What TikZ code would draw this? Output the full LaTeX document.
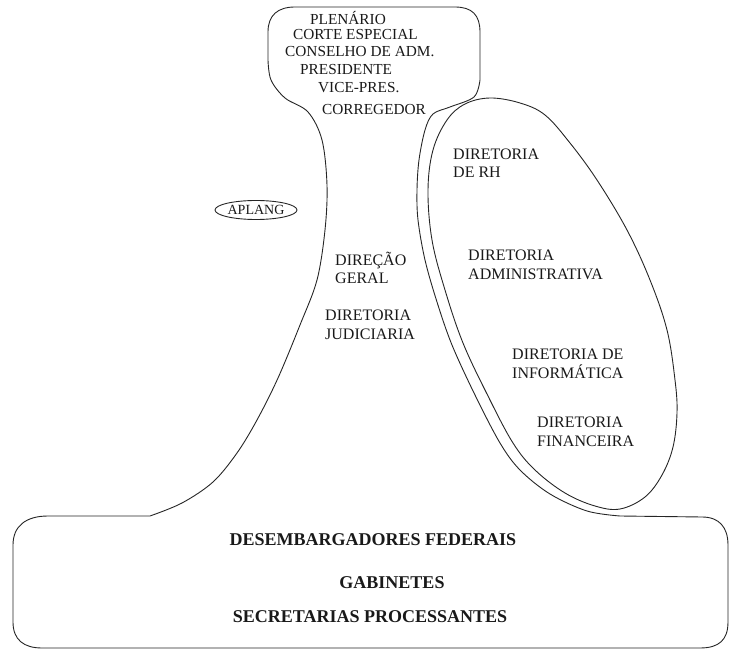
\documentclass[tikz,border=0pt]{standalone}
\usepackage{fontspec}
\setmainfont{Liberation Serif}
\usetikzlibrary{shapes.geometric}
\begin{document}
\begin{tikzpicture}[x=1pt,y=-1pt,
  outline/.style={draw=black!85,line width=0.9pt,line join=round},
  toplabel/.style={anchor=west,inner sep=0pt,text=black!90,font=\fontsize{15.3}{18}\selectfont},
  unitlabel/.style={anchor=west,inner sep=0pt,align=left,text=black!90,font=\fontsize{16}{18.5}\selectfont},
  baselabel/.style={inner sep=0pt,text=black!90,font=\fontsize{18}{22}\selectfont\bfseries}]
\useasboundingbox (0,0) rectangle (729,652);

% outer outline: top box, stem and bottom box as one path
\draw[outline] (13,545) .. controls (13,526) and (26,516) .. (48,516) -- (150,516)
  -- plot[smooth,tension=0.55] coordinates {(150,516) (182,503) (213,482) (237,453)
     (257,420) (278,378) (300,325) (317,280) (325,230) (327,185) (322,140)
     (308,112) (285,98) (271,80) (268,60)}
  -- (268,32) .. controls (268,15) and (278,7) .. (295,7)
  -- (455,7) .. controls (472,7) and (480,15) .. (480,32)
  -- plot[smooth,tension=0.55] coordinates {(480,80) (474,97) (450,107) (433,114)
     (425,130) (419,160) (417,190) (418,220) (425,260) (437,302) (452,345)
     (475,395) (500,443) (520,470) (550,494) (587,511) (620,516)}
  -- (702,517) .. controls (719,517) and (728,527) .. (728,545)
  -- (728,622) .. controls (728,640) and (719,648) .. (700,648)
  -- (42,648) .. controls (24,648) and (13,640) .. (13,622) -- cycle;

% ellipse of the directorates
\draw[outline] plot[smooth cycle,tension=0.6] coordinates {(490,98) (520,103) (545,115)
  (570,143) (597,180) (627,230) (650,280) (667,330) (675,380) (677,413) (673,447)
  (662,475) (645,497) (620,509) (595,506) (565,493) (535,470) (513,443) (488,396)
  (463,343) (445,290) (432,240) (428,190) (433,150) (447,120) (465,104)};

% top box
\node[toplabel] (plen) at (310,18) {PLENÁRIO};
\node[toplabel] (corte) at (293,35) {CORTE ESPECIAL};
\node[toplabel] (cons) at (285,52) {CONSELHO DE ADM.};
\node[toplabel] (pres) at (300,70) {PRESIDENTE};
\node[toplabel] (vice) at (318,88) {VICE-PRES.};
\node[toplabel] (corr) at (322,110) {CORREGEDOR};

% stem
\node[draw=black!85,line width=0.9pt,ellipse,minimum width=82pt,minimum height=19pt,
  inner sep=0pt,text=black!90,font=\fontsize{14}{17}\selectfont] (aplang) at (256,210) {APLANG};
\node[unitlabel] (dg) at (335,268) {DIREÇÃO\\GERAL};
\node[unitlabel] (dj) at (325,325) {DIRETORIA\\JUDICIARIA};

% ellipse
\node[unitlabel] (drh) at (453,163) {DIRETORIA\\DE RH};
\node[unitlabel] (dadm) at (468,265) {DIRETORIA\\ADMINISTRATIVA};
\node[unitlabel] (dinf) at (512,364) {DIRETORIA DE\\INFORMÁTICA};
\node[unitlabel] (dfin) at (537,432) {DIRETORIA\\FINANCEIRA};

% bottom box
\node[baselabel] (desemb) at (373,540) {DESEMBARGADORES FEDERAIS};
\node[baselabel] (gab) at (392,583) {GABINETES};
\node[baselabel] (secr) at (370,617) {SECRETARIAS PROCESSANTES};
\end{tikzpicture}
\end{document}
